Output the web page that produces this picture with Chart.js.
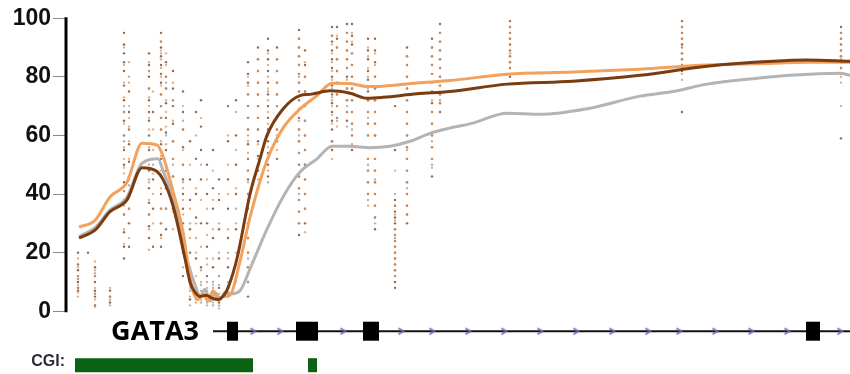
<!DOCTYPE html>
<html>
<head>
<meta charset="utf-8">
<script src="https://cdn.jsdelivr.net/npm/chart.js@4.4.1/dist/chart.umd.min.js"></script>
<style>
  html, body { margin: 0; padding: 0; background: #fff; }
  #wrap { width: 850px; height: 374px; }
</style>
</head>
<body>
<div id="wrap"><canvas id="methChart"></canvas></div>
<script>
// y axis ticks (% methylation)
const yTicks = [0, 20, 40, 60, 80, 100];

// mean methylation lines: position along the locus, value
const darkLineX = [13, 29, 44, 61, 76, 91, 97, 107, 119, 124, 128, 134, 140, 146, 152, 158, 162, 171, 184, 194, 201, 217, 234, 244, 264, 284, 301, 317, 351, 384, 441, 507, 574, 641, 707, 741, 784];
const darkLineY = [25, 27.7, 34, 38, 49, 47.7, 45, 36, 18, 10, 7, 5, 5.5, 4.5, 4, 5.5, 8, 18, 40, 52, 60, 69, 73.6, 74, 75.2, 74.4, 72.7, 73, 74.2, 75, 77.5, 78.5, 80.5, 83.6, 85.3, 85.7, 85.3];

const orangeLineX = [13, 29, 44, 61, 76, 91, 97, 107, 117, 123, 126, 132, 137, 142, 147, 152, 157, 164, 174, 184, 201, 217, 234, 251, 266, 284, 301, 317, 351, 384, 441, 507, 574, 641, 707, 741, 784];
const orangeLineY = [28.7, 31, 39, 44, 57.3, 56.7, 53, 41, 27, 13.7, 8, 4, 6, 3.5, 7, 4, 5, 5.5, 17, 32, 51.5, 62.5, 69, 73.6, 77.8, 77.7, 76.7, 76.8, 77.9, 78.7, 80.9, 81.6, 82.6, 84, 84.6, 85, 85];

const greyLineX = [13, 29, 44, 61, 76, 92, 97, 107, 119, 126, 130, 134, 139, 144, 149, 154, 159, 166, 174, 184, 201, 217, 234, 251, 266, 284, 304, 324, 344, 364, 384, 407, 441, 474, 524, 574, 607, 641, 691, 724, 774, 784];
const greyLineY = [25.5, 28.5, 34.5, 39, 50.5, 52, 48, 38.6, 20, 12, 8, 5, 7.5, 3.5, 6.5, 4, 6.5, 6, 7, 14.5, 28, 39, 47.5, 52, 56.3, 56.3, 55.8, 56.3, 58, 60.7, 62.5, 64.2, 67.6, 67.2, 69.3, 73.4, 75, 77.5, 79.5, 80.5, 81.2, 80.5];

// individual CpG measurements, one column per CpG site
const cpgX = [12, 22, 29, 44, 58, 63, 83, 87, 95, 100, 107, 117, 124, 130, 135, 141, 147, 153, 162, 170, 182, 192, 202, 211, 233, 239, 266, 271, 281, 286, 302, 309, 329, 341, 366, 374, 444, 616, 775];
const darkDots = [
  [20, 16, 14, 12, 10, 8, 7], [20], [15, 12, 10, 7, 5, 2], [7, 5, 3],
  [95, 91, 88, 85, 82, 77, 72, 68, 65, 60, 55, 50, 44, 41, 38, 33, 27, 22, 18], [75, 68, 62, 57, 51, 46, 40, 35, 30, 22],
  [88, 84, 80, 76, 72, 68, 65, 60, 55, 48, 42, 37, 33, 29, 25], [68, 45, 35, 22],
  [95, 92, 90, 87, 84, 81, 78, 74, 70, 66, 62, 57, 52, 46, 40, 35, 30, 26, 22], [85, 80, 76, 71, 66, 61, 55, 48, 42, 35, 28],
  [82, 76, 70, 64, 58, 52, 46, 40, 35], [75, 68, 62, 56, 50, 45, 40, 35, 30, 25, 20, 12],
  [58, 45, 38, 28, 20, 10, 4], [68, 52, 40, 32, 18, 8],
  [72, 63, 55, 45, 30, 15], [50, 40, 30, 22, 12, 5],
  [55, 42, 35, 25, 15, 6], [45, 38, 28, 18, 8, 3],
  [70, 58, 45, 35, 25, 15, 6], [72, 60, 50, 40, 28, 16],
  [85, 81, 78, 74, 70, 66, 62, 57, 52, 48, 45, 40, 35, 30, 25, 20, 15, 10, 5], [90, 86, 82, 78, 74, 70, 66, 62, 58, 53, 48, 42],
  [93, 89, 86, 82, 78, 74, 70, 66, 62, 58, 54, 50, 46], [90, 86, 82, 78, 74, 70, 66, 62, 58, 52],
  [96, 93, 90, 87, 84, 81, 78, 75, 72, 69, 66, 62, 58, 54, 50, 46, 42, 38, 34, 30, 26], [89, 84, 80, 75, 70, 65, 60, 55, 50, 45, 40, 35, 30],
  [97, 94, 92, 89, 86, 83, 80, 77, 74, 71, 68, 65, 62, 58, 55], [97, 93, 90, 86, 82, 78, 74, 70, 66],
  [98, 95, 92, 89, 86, 83, 80, 76, 72, 68, 65], [98, 94, 91, 88, 84, 80, 76, 72, 68, 64, 60, 55],
  [93, 89, 86, 82, 79, 75, 72, 68, 64, 60, 56, 52, 48, 44, 40], [93, 89, 85, 80, 76, 72, 68, 64, 60, 56, 52, 48, 44, 40, 36, 32, 28],
  [70, 55, 38, 36, 34, 32, 30, 28, 26, 24, 22, 20, 18, 16, 14, 12, 10, 8], [90, 87, 84, 80, 76, 72, 68, 64, 60, 56, 52, 48, 44, 40, 36, 33, 30],
  [93, 90, 87, 84, 81, 78, 75, 71, 68, 64, 60, 56, 52, 46], [98, 95, 92, 89, 86, 83, 80, 77, 74, 71, 68],
  [99, 97, 95, 93, 91, 89, 87, 85, 83, 80], [99, 97, 95, 93, 91, 88, 86, 84, 82, 68], [97, 95, 93, 91, 89, 87, 85, 83, 81, 59]
];
const orangeDots = [
  [18, 15, 12, 11, 9, 6.5, 5], [], [17, 14, 12, 8, 6, 4, 1.5], [8, 5, 2],
  [90, 84, 78, 73, 68, 64, 60, 56, 52, 47, 41, 36, 33, 28, 23], [85, 78, 70, 66, 62, 58, 52, 45, 40, 35, 25],
  [85, 82, 76, 73, 70, 66, 62, 56, 50, 44, 38, 33, 28, 21], [75, 62, 55, 47, 40, 30],
  [92, 89, 86, 83, 80, 77, 74, 70, 66, 62, 58, 53, 48, 42, 35, 30, 25], [88, 84, 80, 76, 72, 68, 63, 57, 50, 43, 35],
  [78, 72, 65, 58, 52, 46, 40, 34, 28], [70, 62, 55, 50, 44, 38, 33, 28, 24, 15],
  [50, 35, 25, 15, 8, 2], [60, 42, 30, 20, 12, 3],
  [66, 50, 38, 22, 10, 4], [45, 35, 26, 16, 8, 2],
  [48, 38, 28, 18, 9, 3], [40, 30, 20, 12, 5, 1],
  [60, 50, 40, 28, 18, 8], [68, 55, 42, 30, 20, 10],
  [80, 77, 74, 70, 66, 62, 58, 54, 48, 44, 40, 35, 30, 25, 20, 15, 10], [86, 82, 78, 74, 70, 66, 62, 57, 52, 45],
  [88, 84, 80, 76, 72, 68, 64, 60, 56, 52, 48], [86, 82, 78, 74, 70, 66, 62, 58, 55],
  [93, 90, 87, 84, 81, 78, 75, 72, 69, 65, 62, 58, 54, 50, 46, 42, 38, 34, 30], [85, 80, 75, 70, 65, 60, 55, 50, 45, 40, 35, 27],
  [94, 91, 88, 85, 82, 79, 76, 73, 70, 67, 64, 58, 52], [94, 90, 86, 82, 78, 74, 70, 66, 63],
  [95, 92, 89, 86, 83, 79, 76, 72, 68], [95, 92, 88, 84, 80, 76, 72, 68, 64, 60, 57],
  [90, 87, 83, 80, 76, 72, 68, 64, 60, 56, 52, 48, 44, 40, 36], [88, 84, 80, 76, 72, 68, 64, 60, 56, 52, 48, 44, 40, 36, 32],
  [48, 36, 33, 31, 28, 26, 24, 22, 20, 18, 16, 14, 12], [87, 84, 80, 76, 72, 68, 64, 60, 56, 52, 48, 44, 40, 36, 33],
  [90, 87, 84, 81, 78, 75, 72, 68, 64, 60, 56, 52, 49], [95, 92, 89, 86, 83, 80, 77, 74, 71],
  [97, 95, 93, 91, 89, 87, 85, 83, 81], [97, 95, 93, 90, 88, 86, 84, 81, 79], [95, 93, 91, 89, 87, 85, 83, 80, 78]
];
const greyDots = [
  [16, 11, 8], [], [13, 6], [4],
  [85, 70, 58, 49], [80, 63, 43],
  [82, 60, 45], [50],
  [88, 70, 55], [78, 60],
  [72, 50], [65, 42, 25],
  [30, 12, 9, 7, 5], [25, 8, 6, 4],
  [14, 9, 7, 5, 3], [18, 10, 7, 3],
  [10, 8, 6, 4, 2], [12, 9, 6, 4, 2],
  [20, 10, 8, 5], [35, 12],
  [60, 38, 18], [70, 50],
  [75, 44], [60],
  [80, 60, 40], [50],
  [72, 58], [65],
  [70, 63], [62],
  [66, 50, 38], [60, 45, 30],
  [40, 25], [55, 42],
  [58, 50], [72],
  [88], [90], [86, 70]
];

// gene model (GATA3) and CpG islands, drawn under the axis
const trackY = -6.8;
const geneSpan = [147, 784];
const exonStarts = [161, 230, 297, 740];
const exonEnds = [172, 252, 313, 754];
const arrowX = [187, 214, 277, 335, 366, 402, 438, 474, 510, 546, 582, 613, 649, 685, 721, 774];
const cgiY = -18.4;
const cgiStarts = [9, 242];
const cgiEnds = [187, 251];

const columnPoints = (cols) => {
    const pts = [];
    cpgX.forEach((x, i) => cols[i].forEach(v => pts.push({ x: x, y: v })));
    return pts;
};
const linePoints = (xs, ys) => xs.map((x, i) => ({ x: x, y: ys[i] }));

// small chevron used as the strand arrow on the gene line
const chevron = document.createElement('canvas');
chevron.width = 9;
chevron.height = 9;
const cctx = chevron.getContext('2d');
cctx.strokeStyle = '#6a6ab8';
cctx.lineWidth = 1.5;
cctx.beginPath();
cctx.moveTo(2, 1.5);
cctx.lineTo(7, 4.5);
cctx.lineTo(2, 7.5);
cctx.stroke();

const datasets = [];
const lineStyle = { showLine: true, pointRadius: 0, borderWidth: 3, cubicInterpolationMode: 'monotone', fill: false, order: 1 };
datasets.push(Object.assign({ label: 'dark', data: linePoints(darkLineX, darkLineY), borderColor: '#7a3c10' }, lineStyle));
datasets.push(Object.assign({ label: 'orange', data: linePoints(orangeLineX, orangeLineY), borderColor: '#f2a25c' }, lineStyle));
datasets.push(Object.assign({ label: 'grey', data: linePoints(greyLineX, greyLineY), borderColor: '#b4b4b4' }, lineStyle));

datasets.push({ label: 'darkDots', data: columnPoints(darkDots), backgroundColor: 'rgba(110,55,20,0.75)', borderWidth: 0, pointRadius: 1.2, order: 4 });
datasets.push({ label: 'orangeDots', data: columnPoints(orangeDots), backgroundColor: 'rgba(228,150,85,0.75)', borderWidth: 0, pointRadius: 1.2, order: 3 });
datasets.push({ label: 'greyDots', data: columnPoints(greyDots), backgroundColor: 'rgba(150,150,150,0.7)', borderWidth: 0, pointRadius: 1.2, order: 2 });

// gene backbone, exons, arrows
datasets.push({ label: 'gene', data: [{ x: geneSpan[0], y: trackY }, { x: geneSpan[1], y: trackY }], showLine: true, borderColor: '#111', borderWidth: 2, pointRadius: 0, order: 6 });
datasets.push({ label: 'arrows', data: arrowX.map(x => ({ x: x, y: trackY })), pointStyle: chevron, pointRadius: 4, order: 5 });
exonStarts.forEach((s, i) => {
    datasets.push({ label: 'exon' + i, data: [{ x: s, y: trackY }, { x: exonEnds[i], y: trackY }], showLine: true, borderColor: '#000', borderWidth: 19, borderCapStyle: 'butt', pointRadius: 0, order: 5 });
});
cgiStarts.forEach((s, i) => {
    datasets.push({ label: 'cgi' + i, data: [{ x: s, y: cgiY }, { x: cgiEnds[i], y: cgiY }], showLine: true, borderColor: '#0b6212', borderWidth: 14, borderCapStyle: 'butt', pointRadius: 0, order: 5 });
});

// axis line only over 0-100, plus the track labels
const extrasPlugin = {
    id: 'extras',
    afterDraw(chart) {
        const { ctx, scales, chartArea } = chart;
        const y = scales.y;
        const x = scales.x;
        ctx.save();
        ctx.strokeStyle = '#000';
        ctx.lineWidth = 3;
        ctx.beginPath();
        ctx.moveTo(chartArea.left, y.getPixelForValue(100) - 1);
        ctx.lineTo(chartArea.left, y.getPixelForValue(0) + 1);
        ctx.stroke();

        ctx.fillStyle = '#000';
        ctx.font = 'bold 27px "Open Sans", sans-serif';
        ctx.textAlign = 'right';
        ctx.textBaseline = 'middle';
        ctx.fillText('GATA3', x.getPixelForValue(geneSpan[0]) - 14, y.getPixelForValue(trackY) + 1);

        ctx.fillStyle = '#2e2e38';
        ctx.font = 'bold 16px "Liberation Sans", Arial, sans-serif';
        ctx.fillText('CGI:', chartArea.left - 1, y.getPixelForValue(cgiY) - 4);
        ctx.restore();
    }
};

Chart.defaults.font.family = '"Liberation Sans", Arial, sans-serif';

new Chart(document.getElementById('methChart'), {
    type: 'scatter',
    data: { datasets: datasets },
    plugins: [extrasPlugin],
    options: {
        responsive: true,
        maintainAspectRatio: false,
        animation: false,
        layout: { padding: 0, autoPadding: false },
        plugins: {
            legend: { display: false },
            tooltip: { enabled: false }
        },
        scales: {
            x: {
                type: 'linear',
                min: 0,
                max: 784,
                display: false
            },
            y: {
                type: 'linear',
                min: -21.4,
                max: 106.2,
                afterBuildTicks: (scale) => {
                    scale.ticks = yTicks.map(v => ({ value: v }));
                },
                afterFit: (scale) => {
                    scale.width = 66;
                    scale.paddingTop = 0;
                    scale.paddingBottom = 0;
                },
                border: { display: false },
                grid: {
                    drawOnChartArea: false,
                    drawTicks: true,
                    tickLength: 13,
                    color: '#8a8a8a',
                    lineWidth: 1
                },
                ticks: {
                    color: '#111',
                    padding: 2,
                    font: { size: 23, weight: 'bold' }
                }
            }
        }
    }
});
</script>
</body>
</html>
